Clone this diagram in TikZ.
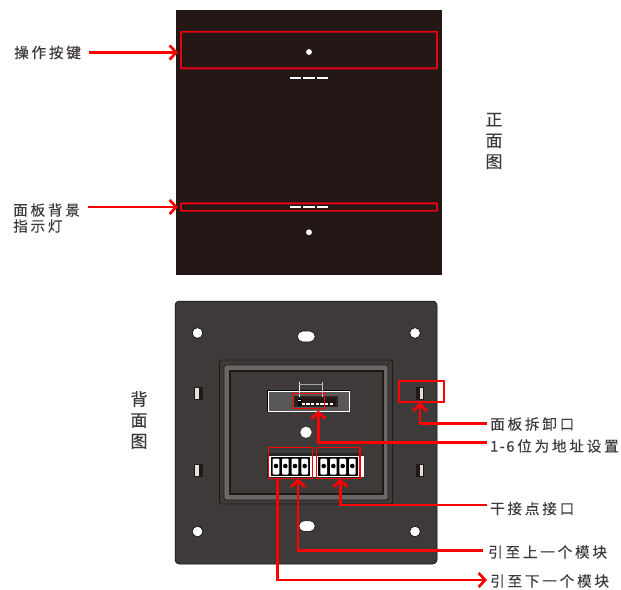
\documentclass[tikz,border=0pt]{standalone}
\usepackage{fontspec}
\usepackage{xcolor}
\usetikzlibrary{arrows.meta}
\newfontfamily\cjk[LetterSpace=19,FakeBold=0.25]{Noto Sans CJK SC}
\definecolor{panelblack}{HTML}{231815}
\definecolor{plategray}{HTML}{3E3A39}
\definecolor{ringgray}{HTML}{6A6867}
\definecolor{windowgray}{HTML}{595757}
\definecolor{boxred}{HTML}{E60012}
\tikzset{
  labeltext/.style={inner sep=0pt, text=plategray, font=\cjk\fontsize{14.6}{16}\selectfont, anchor=west},
  sidetext/.style={inner sep=0pt, text=plategray, align=center, font=\cjk\fontsize{17}{21}\selectfont},
  tinytext/.style={inner sep=0pt, text=black!75, font=\sffamily\fontsize{4.5}{5}\selectfont},
  frontbox/.style={draw=boxred, line width=1.9pt, inner sep=0pt, rounded corners=0.5pt},
  backbox/.style={draw=red, line width=1.5pt, inner sep=0pt},
  redline/.style={draw=red, line width=2.7pt, >={Straight Barb[length=6.5pt,width=14pt]}},
  hole/.style={fill=white, draw=black, line width=0.6pt}
}
\begin{document}
\begin{tikzpicture}[x=1pt,y=-1pt]
  \useasboundingbox (0,0) rectangle (621,589);

  % front panel
  \fill[panelblack] (176,9.5) rectangle (442,275);
  \foreach \yy in {77.5,206.5}
    \foreach \xx in {290,303.3,316.7}
      \fill[white] (\xx,\yy-1) rectangle (\xx+11.3,\yy+1);
  \fill[white] (309,52) circle (2.9);
  \fill[white] (309,232.3) circle (2.9);
  \node (keybox) [frontbox, minimum width=256pt, minimum height=36.6pt] at (309,50) {};
  \node (lampbox) [frontbox, minimum width=256pt, minimum height=7.4pt] at (309,207) {};
  \coordinate (keytip) at (178,52.5);
  \coordinate (lamptip) at (178,207);

  % back panel
  \filldraw[fill=plategray, draw=black, line width=0.5pt, rounded corners=4pt] (175,301) rectangle (437,564);
  \foreach \xx/\yy in {197.5/333,415/333,197.5/531.5,415/531.5}
    \draw[hole] (\xx,\yy) circle (5.3);
  \filldraw[fill=white, draw=black, line width=0.5pt, rounded corners=5pt] (297.5,331.2) rectangle (315,341.8);
  \filldraw[fill=white, draw=black, line width=0.5pt, rounded corners=5pt] (299,520.8) rectangle (315,531.4);
  \foreach \yy in {387.3,464}{
    \fill[panelblack] (194.3,\yy) rectangle (202.5,\yy+13);
    \fill[black!12] (194.8,\yy+1) rectangle (198.5,\yy+12);
    \fill[panelblack] (415.7,\yy) rectangle (423.9,\yy+13);
    \fill[black!12] (419.5,\yy+1) rectangle (423.3,\yy+12);
  }
  \filldraw[fill=plategray, draw=panelblack, line width=0.9pt, rounded corners=2pt] (219.5,360) rectangle (392.5,504);
  \filldraw[fill=ringgray, draw=panelblack, line width=0.8pt, rounded corners=2pt] (224,365) rectangle (388,500);
  \filldraw[fill=plategray, draw=panelblack, line width=1.1pt] (230,371) rectangle (383,494);

  % address switch
  \fill[black] (267,390) rectangle (350,412);
  \filldraw[fill=windowgray, draw=white, line width=0.8pt] (268,391) rectangle (349.5,411.5);
  \fill[panelblack!80!windowgray] (294,396) rectangle (338.3,407);
  \fill[panelblack] (297,398) rectangle (336,406);
  \fill[black] (297.5,399) rectangle (302,406);
  \fill[white] (298,399.5) rectangle (301,401.2);
  \foreach \i in {0,...,6}
    \fill[white] (303.3+\i*4.67-1.6,402.8) rectangle (303.3+\i*4.67+1.6,404.7);
  \draw[white, line width=0.8pt] (299.4,381.7) -- (299.4,397);
  \draw[black!25, line width=0.8pt] (322,381.7) -- (322,397);
  \draw[black!35, line width=0.6pt] (299.4,384.3) -- (322,384.3);
  \node (idtext) [tinytext] at (310.7,388.8) {ID set};
  \fill[white] (306,432.3) circle (5.6);

  % terminal blocks
  \fill[black!85] (266.5,453) rectangle (362,478);
  \foreach \xx in {270,317.5}{
    \filldraw[fill=black, draw=white, line width=1.5pt] (\xx,456.5) rectangle (\xx+41,476.5);
    \fill[white] (\xx+41.5,456) rectangle (\xx+46,477);
  }
  \foreach \xx in {276,285.3,295,304.7,323.7,333.3,342.7,352.3}{
    \fill[white, rounded corners=1pt] (\xx-3.3,458.5) rectangle (\xx+3.3,474.5);
    \fill[black] (\xx,466) circle (2.3);
  }
  \foreach \xx/\tt in {276/24,285.3/G,295/A,304.7/B,323.7/24,333.3/G,342.7/P7,352.3/P8}
    \node (pin\tt\xx) [tinytext] at (\xx,451) {\tt};

  % red boxes of the back panel
  \node (switchbox) [backbox, minimum width=32.4pt, minimum height=14.6pt] at (308.5,401) {};
  \node (clipbox) [backbox, minimum width=45.3pt, minimum height=21pt] at (421.4,391.5) {};
  \node (upbox) [backbox, minimum width=44pt, minimum height=31pt] at (290.3,462.8) {};
  \node (drybox) [backbox, minimum width=43.7pt, minimum height=31pt] at (338.2,462.8) {};
  \coordinate (switchtip) at (318.3,410.5);
  \coordinate (cliptip) at (420,402.5);
  \coordinate (uptip) at (298,478.5);
  \coordinate (drytip) at (340.3,478.5);
  \coordinate (downfrom) at (277.7,478.3);

  % labels
  \node (keylabel) [labeltext] at (14,52.5) {操作按键};
  \node (lamplabel) [labeltext] at (13,210) {面板背景};
  \node (lamplabelb) [labeltext] at (13,226) {指示灯};
  \node (frontlabel) [sidetext] at (494,141) {正\\面\\图};
  \node (backlabel) [sidetext] at (139,420) {背\\面\\图};
  \node (cliplabel) [labeltext] at (490,424) {面板拆卸口};
  \node (addrlabel) [labeltext] at (490,446) {1\kern1.5pt-\kern1.5pt6位为地址设置};
  \node (drylabel) [labeltext] at (490,508.5) {干接点接口};
  \node (uplabel) [labeltext] at (488,552) {引至上一个模块};
  \node (downlabel) [labeltext] at (490,581) {引至下一个模块};

  % connectors
  \draw[redline,->] ([xshift=8pt]keylabel.east) -- (keytip);
  \draw[redline,->] ([xshift=8pt,yshift=3pt]lamplabel.east) -- (lamptip);
  \draw[redline,->] ([xshift=-3pt,yshift=0.7pt]cliplabel.west) -| (cliptip);
  \draw[redline,->] ([xshift=-3pt,yshift=3.3pt]addrlabel.west) -| (switchtip);
  \draw[redline,->] ([xshift=-3pt,yshift=3.5pt]drylabel.west) -| (drytip);
  \draw[redline,->] ([xshift=-5pt,yshift=1.7pt]uplabel.west) -| (uptip);
  \draw[redline,->] (downfrom) |- ([xshift=-3pt,yshift=1pt]downlabel.west);
\end{tikzpicture}
\end{document}
